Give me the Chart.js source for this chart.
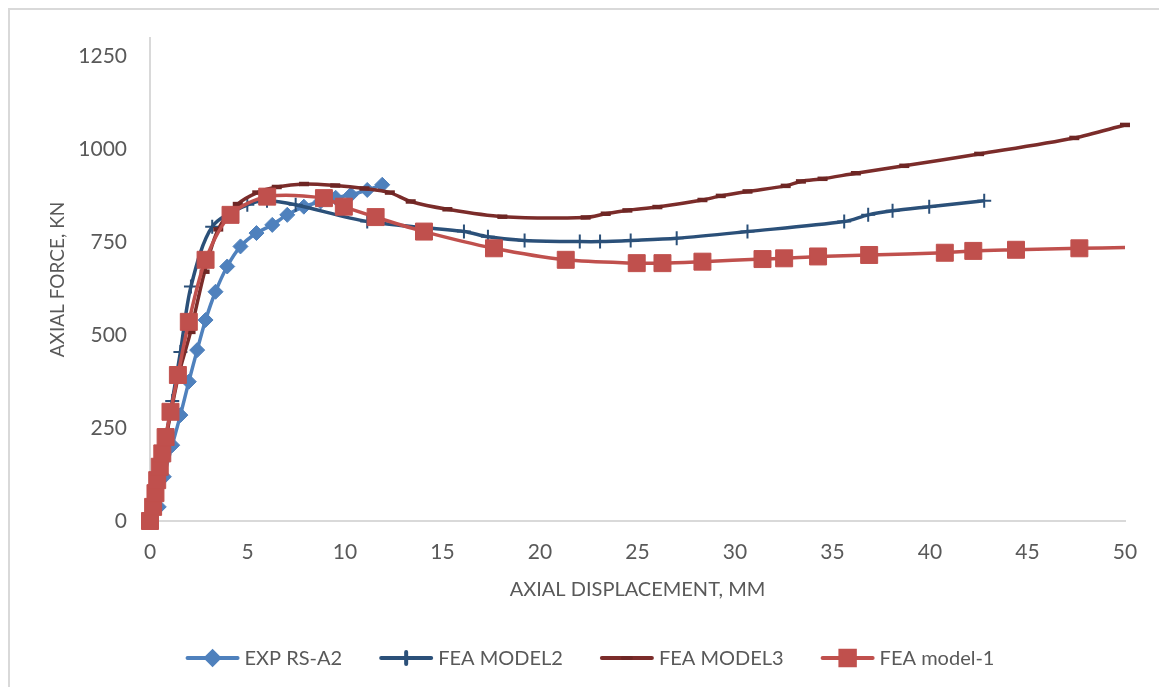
<!DOCTYPE html>
<html>
<head>
<meta charset="utf-8">
<title>Axial force vs axial displacement</title>
<script src="https://cdn.jsdelivr.net/npm/chart.js@4.4.1/dist/chart.umd.min.js"></script>
<style>
  html, body { margin: 0; padding: 0; background: #ffffff; }
  #wrap { width: 1159px; height: 687px; }
</style>
</head>
<body>
<div id="wrap"><canvas id="c" width="1159" height="687"></canvas></div>
<script>
// Axial displacement (mm) and axial force (kN) per series
const expX = [0, 0.45, 0.71, 1.14, 1.56, 1.99, 2.42, 2.85, 3.36, 3.96, 4.64, 5.46, 6.27, 7.04, 7.89, 8.75, 9.52, 10.3, 11.14, 11.91];
const expY = [0, 38, 119, 204, 285, 375, 460, 541, 617, 685, 739, 775, 797, 824, 846, 860, 870, 878, 891, 905];

const model2X = [0, 0.5, 0.8, 1.14, 1.56, 2.1, 3.19, 4.99, 6.0, 7.47, 11.14, 16.1, 17.33, 19.21, 22.04, 23.08, 24.65, 27.01, 30.64, 35.6, 36.83, 38.08, 39.96, 42.78];
const model2Y = [0, 125, 220, 323, 455, 631, 792, 851, 862, 851, 806, 779, 765, 755, 752, 752, 755, 761, 779, 806, 824, 835, 846, 862];

const model3X = [0, 0.35, 0.7, 1.1, 1.5, 2.08, 2.8, 3.5, 4.5, 5.5, 6.5, 7.9, 9.5, 11.0, 12.3, 13.37, 15.25, 18.07, 22.34, 23.37, 24.48, 26.02, 28.33, 29.27, 30.64, 32.6, 33.38, 34.49, 36.2, 38.68, 42.52, 47.4, 50];
const model3Y = [0, 80, 190, 300, 400, 509, 671, 785, 853, 884, 899, 907, 903, 895, 884, 860, 839, 819, 817, 827, 836, 845, 864, 875, 887, 902, 914, 921, 936, 956, 988, 1031, 1066];

const model1X = [0, 0.16, 0.28, 0.37, 0.5, 0.63, 0.8, 1.05, 1.43, 1.99, 2.85, 4.13, 6.01, 8.92, 9.94, 11.57, 14.05, 17.64, 21.32, 24.96, 26.28, 28.33, 31.41, 32.52, 34.26, 36.88, 40.76, 42.22, 44.41, 47.66, 50];
const model1Y = [0, 38, 75, 110, 146, 182, 226, 294, 393, 536, 703, 824, 873, 869, 846, 818, 779, 734, 703, 694, 694, 698, 705, 707, 712, 716, 722, 727, 730, 734, 736];

const seriesNames = ['EXP RS-A2', 'FEA MODEL2', 'FEA MODEL3', 'FEA model-1'];
const xTicks = [0, 5, 10, 15, 20, 25, 30, 35, 40, 45, 50];
const yTicks = [0, 250, 500, 750, 1000, 1250];
const xTitle = 'AXIAL DISPLACEMENT, MM';
const yTitle = 'AXIAL FORCE, KN';

const FONT = 'Lato, "Liberation Sans", sans-serif';
const TEXT = '#595959';
const AXIS = '#d9d9d9';

const pairs = (xs, ys) => xs.map((x, i) => ({ x, y: ys[i] }));

const datasets = [
  {
    label: seriesNames[0], data: pairs(expX, expY), order: 4, clip: false,
    borderColor: '#4F81BD', backgroundColor: '#4F81BD', borderWidth: 3.5,
    pointStyle: 'rectRot', pointRadius: 7.5, pointBorderWidth: 1,
    pointBackgroundColor: '#4F81BD', pointBorderColor: '#4F81BD'
  },
  {
    label: seriesNames[1], data: pairs(model2X, model2Y), order: 3, clip: false,
    borderColor: '#2B5079', backgroundColor: '#2B5079', borderWidth: 3.5,
    pointStyle: 'cross', pointRadius: 7, pointBorderWidth: 2,
    pointBorderColor: '#2B5079'
  },
  {
    label: seriesNames[2], data: pairs(model3X, model3Y), order: 2, clip: false,
    borderColor: '#7B2C2A', backgroundColor: '#7B2C2A', borderWidth: 3.5,
    pointStyle: 'line', pointRadius: 5, pointBorderWidth: 4.5,
    pointBorderColor: '#6E2624'
  },
  {
    label: seriesNames[3], data: pairs(model1X, model1Y), order: 1, clip: false,
    borderColor: '#C0504D', backgroundColor: '#C0504D', borderWidth: 3.5,
    pointStyle: 'rect',
    pointRadius: model1X.map((_, i) => (i === model1X.length - 1 ? 0 : 12)),
    pointBorderWidth: 1,
    pointBackgroundColor: '#C0504D', pointBorderColor: '#C0504D'
  }
];

// Light frame around the whole figure
const framePlugin = {
  id: 'frame',
  beforeDraw(chart) {
    const ctx = chart.ctx;
    ctx.save();
    ctx.fillStyle = '#ffffff';
    ctx.fillRect(0, 0, chart.width, chart.height);
    ctx.strokeStyle = AXIS;
    ctx.lineWidth = 2;
    ctx.strokeRect(9, 9, chart.width + 40, chart.height + 40);
    ctx.restore();
  }
};

// Series key below the plot: a line sample with its marker, then the name
const keyPlugin = {
  id: 'seriesKey',
  afterDraw(chart) {
    const ctx = chart.ctx;
    const lineLen = 54, gapText = 5, gapItem = 37, cx = 590, cy = 658;
    ctx.save();
    ctx.font = '20px ' + FONT;
    ctx.textBaseline = 'middle';
    const items = chart.data.datasets.map(ds => ({ ds, w: ctx.measureText(ds.label).width }));
    const total = items.reduce((s, it) => s + lineLen + gapText + it.w, 0) + gapItem * (items.length - 1);
    let x = cx - total / 2;
    items.forEach(({ ds, w }) => {
      ctx.strokeStyle = ds.borderColor;
      ctx.lineWidth = 4;
      ctx.lineCap = 'round';
      ctx.beginPath();
      ctx.moveTo(x + 2, cy);
      ctx.lineTo(x + lineLen - 2, cy);
      ctx.stroke();
      ctx.fillStyle = ds.pointBackgroundColor || ds.borderColor;
      ctx.strokeStyle = ds.pointBorderColor || ds.borderColor;
      const r = Array.isArray(ds.pointRadius) ? ds.pointRadius[0] : ds.pointRadius;
      Chart.helpers.drawPoint(ctx, {
        pointStyle: ds.pointStyle,
        radius: ds.pointStyle === 'line' ? 4 : r * 0.85,
        borderWidth: ds.pointStyle === 'line' ? 6 : ds.pointBorderWidth,
        rotation: 0
      }, x + lineLen / 2, cy);
      ctx.fillStyle = TEXT;
      ctx.textAlign = 'left';
      ctx.fillText(ds.label, x + lineLen + gapText, cy + 1);
      x += lineLen + gapText + w + gapItem;
    });
    ctx.restore();
  }
};

new Chart(document.getElementById('c'), {
  type: 'line',
  data: { datasets },
  plugins: [framePlugin, keyPlugin],
  options: {
    responsive: false,
    animation: false,
    devicePixelRatio: 1,
    layout: { padding: { top: 38, left: 10, right: 34, bottom: 76 } },
    elements: { line: { tension: 0.3, fill: false } },
    plugins: {
      legend: { display: false },
      tooltip: { enabled: false }
    },
    scales: {
      x: {
        type: 'linear',
        min: 0, max: 50,
        grid: { display: false, drawTicks: false },
        border: { display: true, color: AXIS, width: 2, z: -1 },
        afterBuildTicks: s => { s.ticks = xTicks.map(v => ({ value: v })); },
        afterFit: s => { s.height = 90; },
        ticks: {
          padding: 19, color: TEXT, maxRotation: 0, autoSkip: false,
          font: { family: FONT, size: 21 },
          callback: v => String(v)
        },
        title: {
          display: true, text: xTitle, color: TEXT,
          font: { family: FONT, size: 20 },
          padding: { top: 4, bottom: 9 }
        }
      },
      y: {
        type: 'linear',
        min: 0, max: 1300,
        grid: { display: false, drawTicks: false },
        border: { display: true, color: AXIS, width: 2, z: -1 },
        afterBuildTicks: s => { s.ticks = yTicks.map(v => ({ value: v })); },
        afterFit: s => { s.width = 140; },
        ticks: {
          padding: 23, color: TEXT, autoSkip: false,
          font: { family: FONT, size: 21 },
          callback: v => String(v)
        },
        title: {
          display: true, text: yTitle, color: TEXT,
          font: { family: FONT, size: 19 },
          padding: { top: 36, bottom: 0 }
        }
      }
    }
  }
});
</script>
</body>
</html>
